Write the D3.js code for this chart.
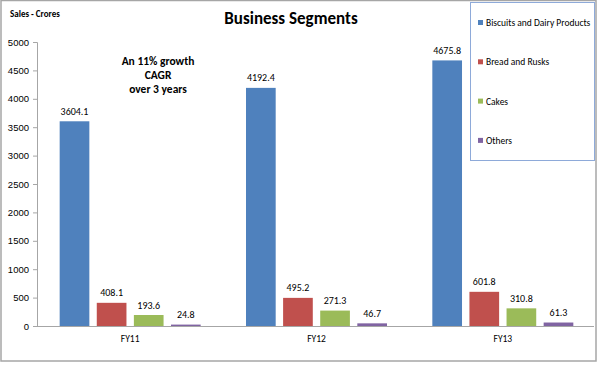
<!DOCTYPE html>
<html>
<head>
<meta charset="utf-8">
<script src="https://cdn.jsdelivr.net/npm/d3@7"></script>
<style>
  body { margin: 0; background: #fff; }
  svg { font-family: Calibri, Carlito, "Liberation Sans", Lato, sans-serif; }
</style>
</head>
<body>
<svg id="chart" width="600" height="367"></svg>
<script>
const years = ['FY11', 'FY12', 'FY13'];
const segments = ['Biscuits and Dairy Products', 'Bread and Rusks', 'Cakes', 'Others'];
const biscuits = [3604.1, 4192.4, 4675.8];
const bread = [408.1, 495.2, 601.8];
const cakes = [193.6, 271.3, 310.8];
const others = [24.8, 46.7, 61.3];
const yTicks = [0, 500, 1000, 1500, 2000, 2500, 3000, 3500, 4000, 4500, 5000];
const colors = ['#4f81bd', '#c0504d', '#9bbb59', '#8064a2'];

const seriesValues = [biscuits, bread, cakes, others];
const rows = years.map((yr, i) => ({
  year: yr,
  vals: segments.map((s, j) => ({ seg: s, v: seriesValues[j][i], c: colors[j] }))
}));

const svg = d3.select('#chart');

// outer frame
svg.append('rect')
  .attr('x', 1).attr('y', 0.5).attr('width', 595).attr('height', 360.5)
  .attr('fill', '#fff').attr('stroke', '#a6a6a6').attr('stroke-width', 1.5);

const plotL = 37, plotR = 596, plotT = 42, plotB = 326;
const groupW = 141;

const x = d3.scaleBand().domain(years).range([plotL, plotR]).paddingInner(0).paddingOuter(0);
const x1 = d3.scaleBand().domain(segments).range([0, groupW]).paddingInner(0.2);
const y = d3.scaleLinear().domain([0, 5000]).range([plotB, plotT]);

// y axis
const yAxis = svg.append('g')
  .attr('transform', `translate(${plotL},0)`)
  .call(d3.axisLeft(y).tickValues(yTicks).tickSize(4).tickPadding(4).tickFormat(d3.format('d')));
yAxis.select('.domain').attr('stroke', '#a6a6a6');
yAxis.selectAll('.tick line').attr('stroke', '#a6a6a6');
yAxis.selectAll('text').attr('font-size', 9.5).attr('fill', '#000');

// baseline
svg.append('line')
  .attr('x1', plotL).attr('x2', plotR - 2).attr('y1', y(0) + 0.5).attr('y2', y(0) + 0.5)
  .attr('stroke', '#a6a6a6');

const groups = svg.append('g').selectAll('g').data(rows).join('g')
  .attr('transform', d => `translate(${x(d.year) + (x.bandwidth() - groupW) / 2},0)`);

groups.selectAll('rect').data(d => d.vals).join('rect')
  .attr('x', d => x1(d.seg))
  .attr('y', d => y(d.v))
  .attr('width', x1.bandwidth())
  .attr('height', d => y(0) - y(d.v))
  .attr('fill', d => d.c);

groups.selectAll('text').data(d => d.vals).join('text')
  .attr('x', d => x1(d.seg) + x1.bandwidth() / 2)
  .attr('y', d => y(d.v) - 6.5)
  .attr('text-anchor', 'middle')
  .attr('font-size', 10)
  .text(d => d3.format('.1f')(d.v));

// x labels
svg.append('g').selectAll('text').data(years).join('text')
  .attr('x', d => x(d) + x.bandwidth() / 2)
  .attr('y', 342)
  .attr('text-anchor', 'middle')
  .attr('font-size', 9.5)
  .text(d => d);

// titles
svg.append('text').attr('x', 291).attr('y', 24).attr('text-anchor', 'middle')
  .attr('font-size', 17).attr('font-weight', 'bold').text('Business Segments');
svg.append('text').attr('x', 10).attr('y', 17)
  .attr('font-size', 9).attr('font-weight', 'bold').text('Sales - Crores');

const note = ['An 11% growth', 'CAGR', 'over 3 years'];
svg.append('g').selectAll('text').data(note).join('text')
  .attr('x', 158).attr('y', (d, i) => 65 + i * 14)
  .attr('text-anchor', 'middle').attr('font-size', 11.5).attr('font-weight', 'bold')
  .text(d => d);

// legend
const lg = svg.append('g');
lg.append('rect').attr('x', 470.5).attr('y', 2.5).attr('width', 124).attr('height', 158)
  .attr('fill', '#fff').attr('stroke', '#8eaad9');
const items = lg.selectAll('g').data(segments).join('g')
  .attr('transform', (d, i) => `translate(478,${23 + i * 39.3})`);
items.append('rect').attr('x', 0).attr('y', -3).attr('width', 5).attr('height', 5)
  .attr('fill', (d, i) => colors[i]);
items.append('text').attr('x', 8).attr('y', 3).attr('font-size', 9.5).text(d => d);
</script>
</body>
</html>
